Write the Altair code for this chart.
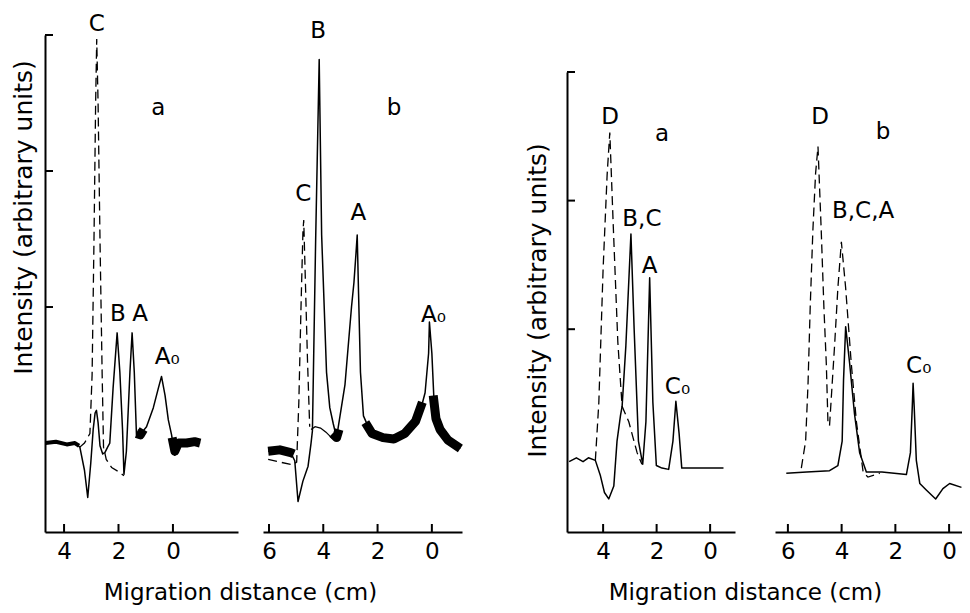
import altair as alt
import pandas as pd

FONT = "DejaVu Sans"

# ---------------- data (x: migration distance, cm ; y: intensity, arbitrary units) --------------
# Left figure, trace a
LA_X = [4.68, 4.3, 3.9, 3.6, 3.42, 3.25, 3.13, 3.02, 2.93, 2.86, 2.81, 2.75, 2.68, 2.58, 2.50, 2.40,
        2.32, 2.2, 2.05, 1.95, 1.85, 1.80, 1.71, 1.58, 1.50, 1.42, 1.34, 1.21, 0.97, 0.72, 0.54, 0.42,
        0.29, 0.17, 0.05, -0.07, -0.2, -0.5, -1.0]
LA_Y = [0.0, 0.01, -0.01, 0.0, -0.03, -0.2, -0.40, -0.15, 0.1, 0.22, 0.24, 0.15, -0.02, -0.08, -0.07, -0.03,
        0.0, 0.4, 0.81, 0.52, 0.09, -0.23, -0.06, 0.52, 0.81, 0.52, 0.06, 0.06, 0.12, 0.26, 0.40, 0.49,
        0.35, 0.17, 0.06, -0.09, 0.0, 0.0, 0.0]
LA_DASH_X = [[3.42, 3.25, 3.05, 2.97, 2.90, 2.84, 2.80, 2.75, 2.68, 2.60, 2.55, 2.45, 2.25, 2.0, 1.80]]
LA_DASH_Y = [[-0.03, 0.0, 0.07, 0.5, 1.5, 2.5, 2.97, 2.5, 1.5, 0.5, -0.03, -0.12, -0.18, -0.21, -0.24]]
LA_THIN_X = [[4.68, 4.3, 3.9, 3.6, 3.45]]
LA_THIN_Y = [[0.0, 0.01, -0.01, 0.0, -0.02]]
LA_THICK_X = [[1.34, 1.2, 1.08], [0.03, -0.07, -0.2, -0.5, -0.8, -1.0]]
LA_THICK_Y = [[0.07, 0.06, 0.1], [0.04, -0.06, 0.0, 0.0, 0.01, 0.0]]
LA_LAB = ["C", "a", "B", "A", "A₀"]
LA_LAB_X = [2.80, 0.54, 2.02, 1.21, 0.21]
LA_LAB_Y = [3.08, 2.46, 0.95, 0.95, 0.63]
LA_XTICKS = [4, 2, 0]
LEFT_YTICKS = [1, 2, 3]

# Left figure, trace b
LB_X = [6.03, 5.6, 5.2, 5.05, 4.93, 4.75, 4.56, 4.45, 4.40, 4.28, 4.15, 4.06, 3.88, 3.76, 3.63, 3.51,
        3.2, 2.96, 2.87, 2.80, 2.75, 2.70, 2.63, 2.52, 2.28, 2.0, 1.6, 1.2, 0.8, 0.55, 0.25, 0.12, 0.09,
        0.0, -0.09, -0.25, -0.55, -0.8, -1.05]
LB_Y = [-0.06, -0.05, -0.07, -0.13, -0.43, -0.28, -0.17, 0.0, 0.09, 1.5, 2.82, 1.53, 0.52, 0.26, 0.14, 0.04,
        0.43, 1.0, 1.18, 1.38, 1.53, 1.1, 0.52, 0.2, 0.09, 0.05, 0.03, 0.04, 0.08, 0.14, 0.37, 0.66, 0.89,
        0.66, 0.26, 0.12, 0.03, 0.0, -0.04]
LB_BASE_X = [4.45, 4.3, 4.1, 3.9, 3.7, 3.55]
LB_BASE_Y = [0.10, 0.12, 0.11, 0.08, 0.04, 0.02]
LB_DASH_X = [[6.03, 5.6, 5.11, 4.98, 4.90, 4.82, 4.75, 4.72, 4.66, 4.58, 4.50]]
LB_DASH_Y = [[-0.12, -0.14, -0.16, -0.14, 0.3, 1.0, 1.55, 1.64, 1.2, 0.6, 0.12]]
LB_THICK_X = [[6.03, 5.6, 5.2, 5.08], [3.66, 3.51, 3.42],
              [2.45, 2.2, 1.8, 1.4, 1.0, 0.6, 0.35], [-0.05, -0.15, -0.3, -0.6, -0.9, -1.05]]
LB_THICK_Y = [[-0.06, -0.05, -0.07, -0.08], [0.07, 0.04, 0.1],
              [0.15, 0.07, 0.04, 0.03, 0.07, 0.16, 0.3], [0.35, 0.18, 0.1, 0.02, -0.02, -0.04]]
LB_LAB = ["B", "b", "C", "A", "A₀"]
LB_LAB_X = [4.19, 1.39, 4.74, 2.71, -0.06]
LB_LAB_Y = [3.03, 2.46, 1.83, 1.69, 0.94]
LB_XTICKS = [6, 4, 2, 0]

# Right figure, trace a
RA_X = [5.27, 5.0, 4.75, 4.55, 4.29, 4.1, 3.95, 3.79, 3.6, 3.48, 3.35, 3.29, 3.15, 2.96, 2.84, 2.68,
        2.52, 2.40, 2.26, 2.14, 2.01, 1.8, 1.55, 1.39, 1.28, 1.16, 1.06, 0.5, -0.5]
RA_Y = [-0.03, 0.0, -0.03, 0.0, -0.02, -0.14, -0.27, -0.32, -0.22, 0.13, 0.33, 0.40, 0.87, 1.74, 1.0, 0.13,
        -0.05, 0.28, 1.40, 0.43, -0.06, -0.08, -0.09, 0.13, 0.44, 0.19, -0.08, -0.08, -0.08]
RA_DASH_X = [[4.29, 4.16, 4.0, 3.85, 3.75, 3.62, 3.45, 3.29, 3.04, 2.73, 2.55]]
RA_DASH_Y = [[-0.02, 0.43, 1.47, 2.2, 2.53, 1.8, 0.9, 0.40, 0.28, 0.04, -0.05]]
RA_LAB = ["D", "a", "B,C", "A", "C₀"]
RA_LAB_X = [3.74, 1.80, 2.55, 2.26, 1.22]
RA_LAB_Y = [2.65, 2.52, 1.86, 1.49, 0.55]
RA_XTICKS = [4, 2, 0]
RIGHT_YTICKS = [1, 2, 3]

# Right figure, trace b
RB_X = [6.06, 5.3, 4.45, 4.14, 3.98, 3.93, 3.85, 3.70, 3.52, 3.33, 3.08, 2.5, 1.59, 1.44, 1.37, 1.34,
        1.30, 1.22, 1.09, 0.85, 0.50, 0.23, -0.02, -0.46]
RB_Y = [-0.12, -0.11, -0.10, -0.06, 0.13, 0.6, 1.02, 0.73, 0.34, 0.04, -0.11, -0.11, -0.13, 0.04, 0.4, 0.58,
        0.4, -0.02, -0.2, -0.25, -0.32, -0.24, -0.2, -0.23]
RB_DASH_X = [[5.50, 5.34, 5.25, 5.17, 5.07, 4.97, 4.88, 4.76, 4.66, 4.57, 4.51],
             [4.45, 4.26, 4.14, 4.01, 3.85, 3.64, 3.45, 3.2, 3.02, 2.58]]
RB_DASH_Y = [[-0.08, 0.13, 0.58, 1.17, 1.77, 2.21, 2.42, 1.77, 1.17, 0.73, 0.28],
             [0.25, 0.88, 1.32, 1.68, 1.32, 0.73, 0.28, -0.11, -0.15, -0.12]]
RB_LAB = ["D", "b", "B,C,A", "C₀"]
RB_LAB_X = [4.80, 2.46, 3.2, 1.13]
RB_LAB_Y = [2.65, 2.53, 1.92, 0.71]
RB_XTICKS = [6, 4, 2, 0]

# ---------------- layout (pixels) ----------------
W, H = 917, 497
PAD = {"left": 37, "top": 27, "right": 0, "bottom": 73}
LEFT_Y_DOM, LEFT_Y_RNG = [-0.654, 3.0], [H, 0]
RIGHT_Y_DOM, RIGHT_Y_RNG = [-0.577, 3.0], [H, 37]
TICK_LEN = 8
XTITLE_SIZE = 23
YTITLE_SIZE = 25


def line_frame(xs, ys):
    return pd.DataFrame({"x": xs, "y": ys, "i": list(range(len(xs)))})


def seg_frame(xss, yss):
    rows = []
    for s, (xs, ys) in enumerate(zip(xss, yss)):
        for i, (x, y) in enumerate(zip(xs, ys)):
            rows.append({"x": x, "y": y, "i": i, "seg": s})
    return pd.DataFrame(rows)


def panel(xdom, xrng, ydom, yrng, sx, sy, dash, thin, thick, base, labels, xticks, yticks,
          xaxis, yaxis):
    xs = alt.Scale(domain=xdom, range=xrng, zero=False, nice=False)
    ys = alt.Scale(domain=ydom, range=yrng, zero=False, nice=False)
    px_per_x = abs(xrng[1] - xrng[0]) / abs(xdom[0] - xdom[1])
    px_per_y = abs(yrng[0] - yrng[1]) / abs(ydom[1] - ydom[0])

    def X(field="x"):
        return alt.X(f"{field}:Q", scale=xs, axis=None)

    def Y(field="y"):
        return alt.Y(f"{field}:Q", scale=ys, axis=None)

    layers = []
    layers.append(
        alt.Chart(line_frame(sx, sy)).mark_line(color="black", strokeWidth=1.5, strokeJoin="round")
        .encode(x=alt.X("x:Q", scale=xs, axis=xaxis),
                y=alt.Y("y:Q", scale=ys, axis=yaxis), order="i:Q"))
    if dash:
        layers.append(
            alt.Chart(seg_frame(*dash)).mark_line(color="black", strokeWidth=1.3, strokeDash=[9, 5])
            .encode(x=X(), y=Y(), detail="seg:N", order="i:Q"))
    if base:
        layers.append(
            alt.Chart(line_frame(*base)).mark_line(color="black", strokeWidth=1.3)
            .encode(x=X(), y=Y(), order="i:Q"))
    if thin:
        layers.append(
            alt.Chart(seg_frame(*thin)).mark_line(color="black", strokeWidth=4, strokeJoin="round")
            .encode(x=X(), y=Y(), detail="seg:N", order="i:Q"))
    if thick:
        layers.append(
            alt.Chart(seg_frame(*thick)).mark_line(color="black", strokeWidth=9, strokeJoin="round")
            .encode(x=X(), y=Y(), detail="seg:N", order="i:Q"))
    t, tx, ty = labels
    layers.append(
        alt.Chart(pd.DataFrame({"t": t, "x": tx, "y": ty})).mark_text(
            font=FONT, fontSize=23, color="black", align="center", baseline="middle")
        .encode(x=X(), y=Y(), text="t:N"))
    # inward ticks on the x axis
    ybot = min(ydom)
    layers.append(
        alt.Chart(pd.DataFrame({"x": xticks, "y": [ybot] * len(xticks),
                                "y2": [ybot + TICK_LEN / px_per_y] * len(xticks)}))
        .mark_rule(color="black", strokeWidth=2)
        .encode(x=X(), y=Y(), y2="y2:Q"))
    # inward ticks on the y axis
    if yticks:
        xl = xdom[0]
        layers.append(
            alt.Chart(pd.DataFrame({"x": [xl] * len(yticks),
                                    "x2": [xl - TICK_LEN / px_per_x] * len(yticks),
                                    "y": yticks}))
            .mark_rule(color="black", strokeWidth=2)
            .encode(x=X(), x2="x2:Q", y=Y()))
    return layers


def xaxis(vals, title=None, title_x=0):
    kw = dict(orient="bottom", values=vals, ticks=False, domain=True, domainColor="black",
              domainWidth=2, labelFont=FONT, labelFontSize=23, labelColor="black", labelPadding=8,
              labelFlush=False, labelOverlap=False, grid=False)
    if title:
        kw.update(title=title, titleFont=FONT, titleFontSize=XTITLE_SIZE, titleFontWeight="normal",
                  titleColor="black", titleX=title_x, titleY=60, titleAlign="center",
                  titleBaseline="middle")
    else:
        kw.update(title=None)
    return alt.Axis(**kw)


def yaxis(offset, title_x, title_y):
    return alt.Axis(orient="left", offset=offset, ticks=False, labels=False, domain=True,
                    domainColor="black", domainWidth=2, grid=False,
                    title="Intensity (arbitrary units)", titleFont=FONT, titleFontSize=YTITLE_SIZE,
                    titleFontWeight="normal", titleColor="black", titleX=title_x, titleY=title_y,
                    titleAngle=270, titleAlign="center", titleBaseline="middle")


layers = []
layers += panel([4.70, -2.39], [0, 193], LEFT_Y_DOM, LEFT_Y_RNG, LA_X, LA_Y,
                (LA_DASH_X, LA_DASH_Y), (LA_THIN_X, LA_THIN_Y), (LA_THICK_X, LA_THICK_Y), None,
                (LA_LAB, LA_LAB_X, LA_LAB_Y), LA_XTICKS, LEFT_YTICKS,
                xaxis(LA_XTICKS, "Migration distance (cm)", 195), yaxis(0, -22, 182))
layers += panel([6.22, -1.11], [218, 417], LEFT_Y_DOM, LEFT_Y_RNG, LB_X, LB_Y,
                (LB_DASH_X, LB_DASH_Y), None, (LB_THICK_X, LB_THICK_Y), (LB_BASE_X, LB_BASE_Y),
                (LB_LAB, LB_LAB_X, LB_LAB_Y), LB_XTICKS, None,
                xaxis(LB_XTICKS), None)
layers += panel([5.35, -0.93], [522, 690], RIGHT_Y_DOM, RIGHT_Y_RNG, RA_X, RA_Y,
                (RA_DASH_X, RA_DASH_Y), None, None, None,
                (RA_LAB, RA_LAB_X, RA_LAB_Y), RA_XTICKS, RIGHT_YTICKS,
                xaxis(RA_XTICKS, "Migration distance (cm)", 700), yaxis(-522, -30, 265))
layers += panel([6.48, -0.48], [730, 917], RIGHT_Y_DOM, RIGHT_Y_RNG, RB_X, RB_Y,
                (RB_DASH_X, RB_DASH_Y), None, None, None,
                (RB_LAB, RB_LAB_X, RB_LAB_Y), RB_XTICKS, None,
                xaxis(RB_XTICKS), None)

chart = (
    alt.layer(*layers)
    .resolve_scale(x="independent", y="independent")
    .resolve_axis(x="independent", y="independent")
    .properties(width=W, height=H, autosize=alt.AutoSizeParams(type="none"), padding=PAD,
                view=alt.ViewBackground(stroke="white", strokeOpacity=0, strokeWidth=0))
    .configure_view(stroke="white", strokeOpacity=0, strokeWidth=0)
    .configure_axis(grid=False, domainColor="black", tickColor="black", labelColor="black")
    .configure(background="white", style={"cell": {"stroke": "white", "strokeOpacity": 0}})
)

chart.save("out.html", embed_options={"renderer": "svg", "actions": False})
